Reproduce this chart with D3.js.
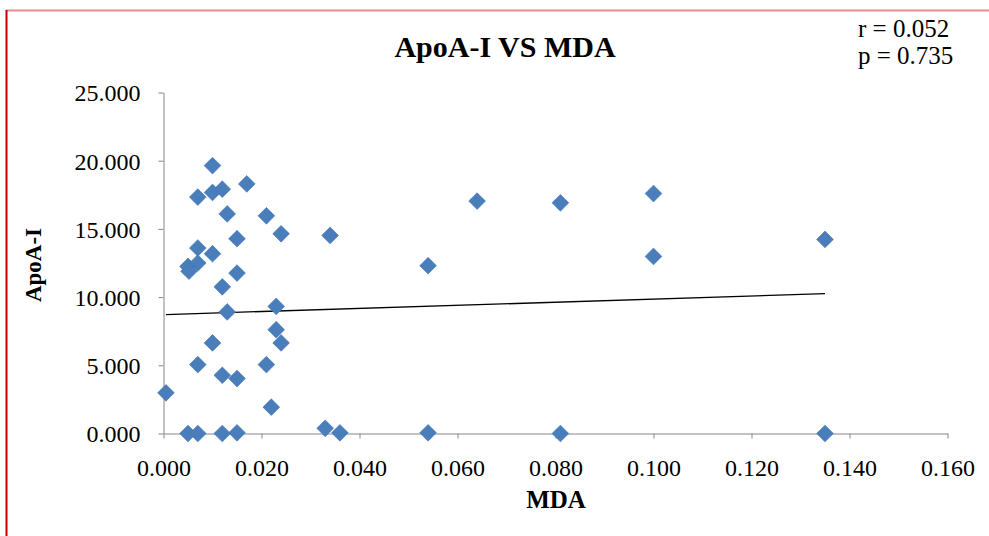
<!DOCTYPE html>
<html>
<head>
<meta charset="utf-8">
<script src="https://cdn.jsdelivr.net/npm/d3@7"></script>
<style>
  body { margin: 0; background: #fff; }
  svg { display: block; font-family: "Liberation Serif", "Times New Roman", serif; }
</style>
</head>
<body>
<div id="chart"></div>
<script>
// data
var mdaValues = [
    0.0005, 0.005, 0.007, 0.012, 0.015, 0.033, 0.036, 0.054, 0.081, 0.135,
    0.005, 0.0052, 0.007, 0.007, 0.007, 0.007, 0.010, 0.010, 0.010, 0.010,
    0.012, 0.012, 0.012, 0.013, 0.013, 0.015, 0.015, 0.015, 0.017, 0.021,
    0.021, 0.022, 0.023, 0.023, 0.024, 0.024, 0.034, 0.054, 0.064, 0.081,
    0.100, 0.100, 0.135
];
var apoValues = [
    2.98, 0.0, 0.0, 0.0, 0.05, 0.38, 0.05, 0.05, 0.0, 0.0,
    12.25, 11.9, 12.5, 13.6, 17.33, 5.05, 6.64, 13.18, 17.67, 19.64,
    17.91, 10.75, 4.27, 8.91, 16.1, 14.28, 11.76, 4.03, 18.3, 15.96,
    5.05, 1.93, 9.32, 7.61, 6.64, 14.64, 14.52, 12.3, 17.04, 16.91,
    17.59, 12.98, 14.23
];
var trendX = [0.0005, 0.135];
var trendY = [8.72, 10.25];
var xTicks = [0, 0.02, 0.04, 0.06, 0.08, 0.10, 0.12, 0.14, 0.16];
var yTicks = [0, 5, 10, 15, 20, 25];
var statsText = ['r = 0.052', 'p = 0.735'];
//end data

var width = 989, height = 536;

var svg = d3.select('#chart').append('svg')
    .attr('width', width)
    .attr('height', height);

// frame lines at the edge of the crop
svg.append('line')
    .attr('x1', 6).attr('x2', width)
    .attr('y1', 10.5).attr('y2', 10.5)
    .attr('stroke', '#e88e8e').attr('stroke-width', 2);
svg.append('line')
    .attr('x1', 6.5).attr('x2', 6.5)
    .attr('y1', 10).attr('y2', height)
    .attr('stroke', '#c00000').attr('stroke-width', 2);

var xScale = d3.scaleLinear().domain([0, 0.16]).range([163.5, 947.5]);
var yScale = d3.scaleLinear().domain([0, 25]).range([433.5, 92.5]);

var axisColor = '#868686';

var xAxis = svg.append('g')
    .attr('transform', 'translate(0,' + yScale(0) + ')')
    .call(d3.axisBottom(xScale).tickValues(xTicks).tickSize(5).tickSizeOuter(0)
        .tickFormat(d3.format('.3f')));

var yAxis = svg.append('g')
    .attr('transform', 'translate(' + xScale(0) + ',0)')
    .call(d3.axisLeft(yScale).tickValues(yTicks).tickSize(5).tickSizeOuter(0)
        .tickFormat(d3.format('.3f')));

[xAxis, yAxis].forEach(function(g){
    g.select('.domain').attr('stroke', axisColor);
    g.selectAll('.tick line').attr('stroke', axisColor);
    g.selectAll('.tick text')
        .attr('fill', '#000')
        .style('font-family', '"Liberation Serif", serif')
        .style('font-size', '24px');
});
xAxis.selectAll('.tick text').attr('dy', null).attr('y', 42);
yAxis.selectAll('.tick text').attr('x', -23).attr('dy', '0.35em');

// trend line
svg.append('line')
    .attr('x1', xScale(trendX[0])).attr('y1', yScale(trendY[0]))
    .attr('x2', xScale(trendX[1])).attr('y2', yScale(trendY[1]))
    .attr('stroke', '#000').attr('stroke-width', 1.3);

// points
var diamond = d3.symbol().type(d3.symbolSquare).size(140);
svg.append('g').selectAll('path')
    .data(mdaValues)
    .enter().append('path')
    .attr('d', diamond)
    .attr('transform', function(d, i){
        return 'translate(' + xScale(d) + ',' + yScale(apoValues[i]) + ') rotate(45)';
    })
    .attr('fill', '#4a7ebb')
    .attr('stroke', '#4576b5')
    .attr('stroke-width', 0.6);

// title
svg.append('text')
    .attr('x', 505).attr('y', 57)
    .attr('text-anchor', 'middle')
    .style('font-size', '30px').style('font-weight', 'bold')
    .text('ApoA-I VS MDA');

svg.selectAll('.stat')
    .data(statsText)
    .enter().append('text')
    .attr('class', 'stat')
    .attr('x', 858)
    .attr('y', function(d, i){ return 37 + i * 27; })
    .style('font-size', '25px')
    .text(function(d){ return d; });

// axis titles
svg.append('text')
    .attr('x', 556).attr('y', 508)
    .attr('text-anchor', 'middle')
    .style('font-size', '25px').style('font-weight', 'bold')
    .text('MDA');

svg.append('text')
    .attr('transform', 'translate(41,265) rotate(-90)')
    .attr('text-anchor', 'middle')
    .style('font-size', '23px').style('font-weight', 'bold')
    .text('ApoA-I');
</script>
</body>
</html>
